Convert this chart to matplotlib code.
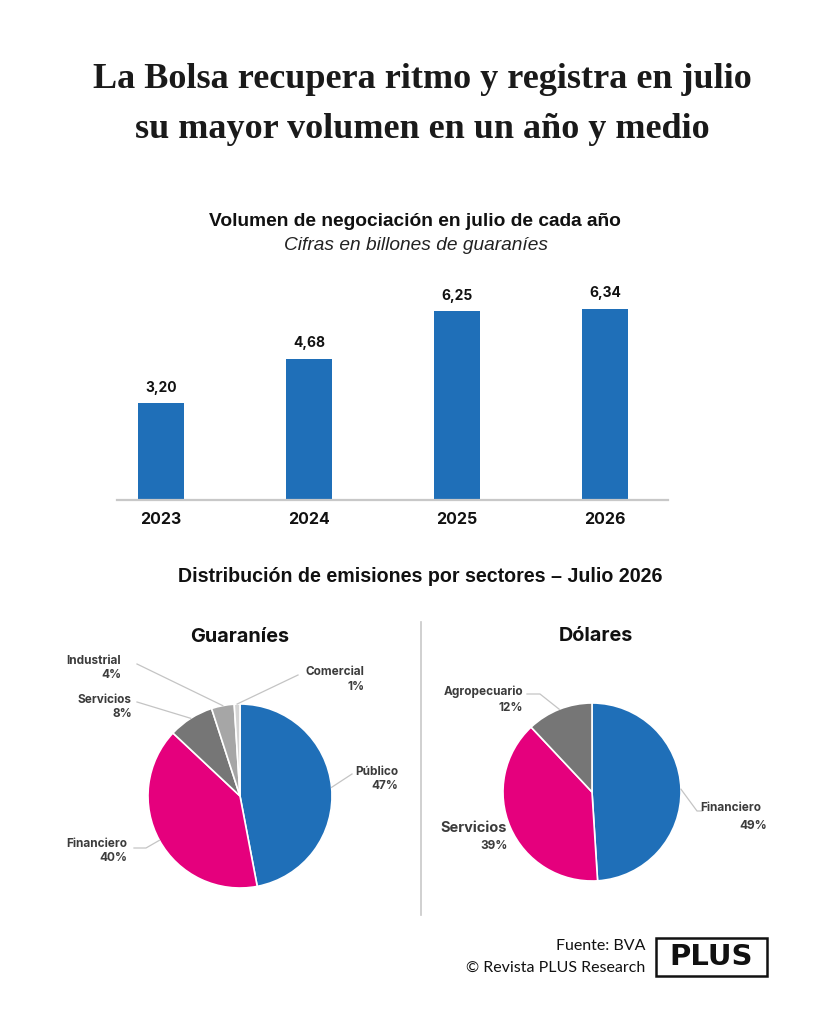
import matplotlib.pyplot as plt
import numpy as np

# datos del grafico de barras
anios = ['2023', '2024', '2025', '2026']
volumen = [3.20, 4.68, 6.25, 6.34]
etiquetas_vol = ['3,20', '4,68', '6,25', '6,34']

# distribucion por sectores (julio 2026)
sectores_gs = ['Público', 'Financiero', 'Servicios', 'Industrial', 'Comercial']
pct_gs = [47, 40, 8, 4, 1]
sectores_usd = ['Financiero', 'Servicios', 'Agropecuario']
pct_usd = [49, 39, 12]

AZUL = '#1f6fb8'
ROSA = '#e5007d'
GRIS_TXT = '#3c3c3c'
GRIS_LINEA = '#c8c8c8'
SANS = 'Inter'

W, H = 819, 1024
fig = plt.figure(figsize=(W / 100, H / 100), dpi=100)
fig.patch.set_facecolor('white')


def fx(x):
    return x / W


def fy(y):
    return 1 - y / H


# titulo principal
fig.text(fx(422), fy(80), 'La Bolsa recupera ritmo y registra en julio',
         ha='center', va='center', family='Liberation Serif', weight='bold',
         size=26, color='#1a1a1a')
fig.text(fx(422), fy(130), 'su mayor volumen en un año y medio',
         ha='center', va='center', family='Liberation Serif', weight='bold',
         size=26, color='#1a1a1a')

fig.text(fx(415), fy(221), 'Volumen de negociación en julio de cada año',
         ha='center', va='center', family='Liberation Sans', weight='bold',
         size=13.8, color='#111111')
fig.text(fx(416), fy(246), 'Cifras en billones de guaraníes',
         ha='center', va='center', family='Liberation Sans', style='italic',
         size=13.8, color='#222222')

# ---- barras ----
x0, x1, base, top = 117, 668, 500, 270
px_por_unidad = 30.2
sep = 148
ax = fig.add_axes([fx(x0), fy(base), (x1 - x0) / W, (base - top) / H])
pos = np.arange(len(anios))
ax.bar(pos, volumen, width=46 / sep, color=AZUL)
ax.set_xlim((x0 - 161) / sep, (x1 - 161) / sep)
ax.set_ylim(0, (base - top) / px_por_unidad)
for p, v, t in zip(pos, volumen, etiquetas_vol):
    ax.annotate(t, (p, v), xytext=(0, 6), textcoords='offset points',
                ha='center', va='bottom', family=SANS, weight='bold',
                size=10, color='#111111')
ax.set_xticks(pos)
ax.set_xticklabels(anios, family=SANS, weight='bold', size=11.5,
                   color='#111111')
ax.tick_params(axis='x', length=0, pad=9)
ax.set_yticks([])
for s in ['top', 'left', 'right']:
    ax.spines[s].set_visible(False)
ax.spines['bottom'].set_color(GRIS_LINEA)
ax.spines['bottom'].set_linewidth(1.6)

fig.text(fx(420), fy(577), 'Distribución de emisiones por sectores – Julio 2026',
         ha='center', va='center', family='Liberation Sans', weight='bold',
         size=14.1, color='#111111')

# separador
fig.add_artist(plt.Line2D([fx(421), fx(421)], [fy(622), fy(915)],
                          color=GRIS_LINEA, lw=1.2))


def torta(cx, cy, R, valores, colores, titulo, tx, ty, etiquetas):
    h = 175
    a = fig.add_axes([(cx - h) / W, 1 - (cy + h) / H, 2 * h / W, 2 * h / H])
    a.pie(valores, colors=colores, startangle=90, counterclock=False,
          radius=1, wedgeprops=dict(edgecolor='white', linewidth=1.2))
    a.set_xlim(-h / R, h / R)
    a.set_ylim(-h / R, h / R)
    a.axis('off')
    fig.text(fx(tx), fy(ty), titulo, ha='center', va='center',
             family=SANS, weight='bold', size=14.3, color='#111111')

    v = np.array(valores, dtype=float)
    medio = (np.cumsum(v) - v / 2) / v.sum()
    ang = np.deg2rad(90 - 360 * medio)

    def d(px, py):
        return (px - cx) / R, (cy - py) / R

    for i, (nombre, pct) in enumerate(etiquetas['datos']):
        lay = etiquetas['layout'][nombre]
        nx, ny = d(*lay['nombre'])
        a.text(nx, ny, nombre, ha='right', va='center', family=SANS,
               weight='bold', size=lay.get('size', 8.5), color=GRIS_TXT,
               clip_on=False)
        qx, qy = d(*lay['pct'])
        a.text(qx, qy, f'{pct}%', ha='right', va='center', family=SANS,
               weight='bold', size=8.5, color=GRIS_TXT, clip_on=False)
        if lay.get('linea'):
            pts = [d(*p) for p in lay['linea']]
            pts.append((np.cos(ang[i]), np.sin(ang[i])))
            xs, ys = zip(*pts)
            a.plot(xs, ys, color='#c4c4c4', lw=0.9, clip_on=False)


layout_gs = {
    'Público': dict(nombre=(398, 772), pct=(398, 786), linea=[(352, 774)]),
    'Financiero': dict(nombre=(127, 844), pct=(127, 858),
                       linea=[(134, 848), (146, 848)]),
    'Servicios': dict(nombre=(131, 700), pct=(132, 714), linea=[(137, 702)]),
    'Industrial': dict(nombre=(121, 661), pct=(122, 675), linea=[(137, 664)]),
    'Comercial': dict(nombre=(364, 672), pct=(365, 687), linea=[(298, 675)]),
}
layout_usd = {
    'Financiero': dict(nombre=(761, 808), pct=(767, 826),
                       linea=[(702, 811), (697, 811)]),
    'Servicios': dict(nombre=(507, 828), pct=(508, 846), size=10.5),
    'Agropecuario': dict(nombre=(523, 692), pct=(523, 708),
                         linea=[(527, 694), (540, 694)]),
}

torta(240, 796, 92, pct_gs, [AZUL, ROSA, '#767676', '#a6a6a6', '#d4d4d4'],
      'Guaraníes', 240, 637,
      dict(datos=list(zip(sectores_gs, pct_gs)), layout=layout_gs))
torta(592, 792, 89, pct_usd, [AZUL, ROSA, '#767676'],
      'Dólares', 596, 636,
      dict(datos=list(zip(sectores_usd, pct_usd)), layout=layout_usd))

# pie de pagina
fig.text(fx(645), fy(946), 'Fuente: BVA', ha='right', va='center',
         family='Lato', size=11.5, color='#111111')
fig.text(fx(645), fy(968), '© Revista PLUS Research', ha='right', va='center',
         family='Lato', size=11.5, color='#111111')
fig.add_artist(plt.Rectangle((fx(656), fy(976)), (767 - 656) / W, 38 / H,
                             fill=False, edgecolor='#111111', lw=1.8))
fig.text(fx(711.5), fy(957), 'PLUS', ha='center', va='center',
         family='DejaVu Sans', weight='bold', size=21, color='#111111')

fig.savefig('out.png', dpi=100, facecolor='white')
